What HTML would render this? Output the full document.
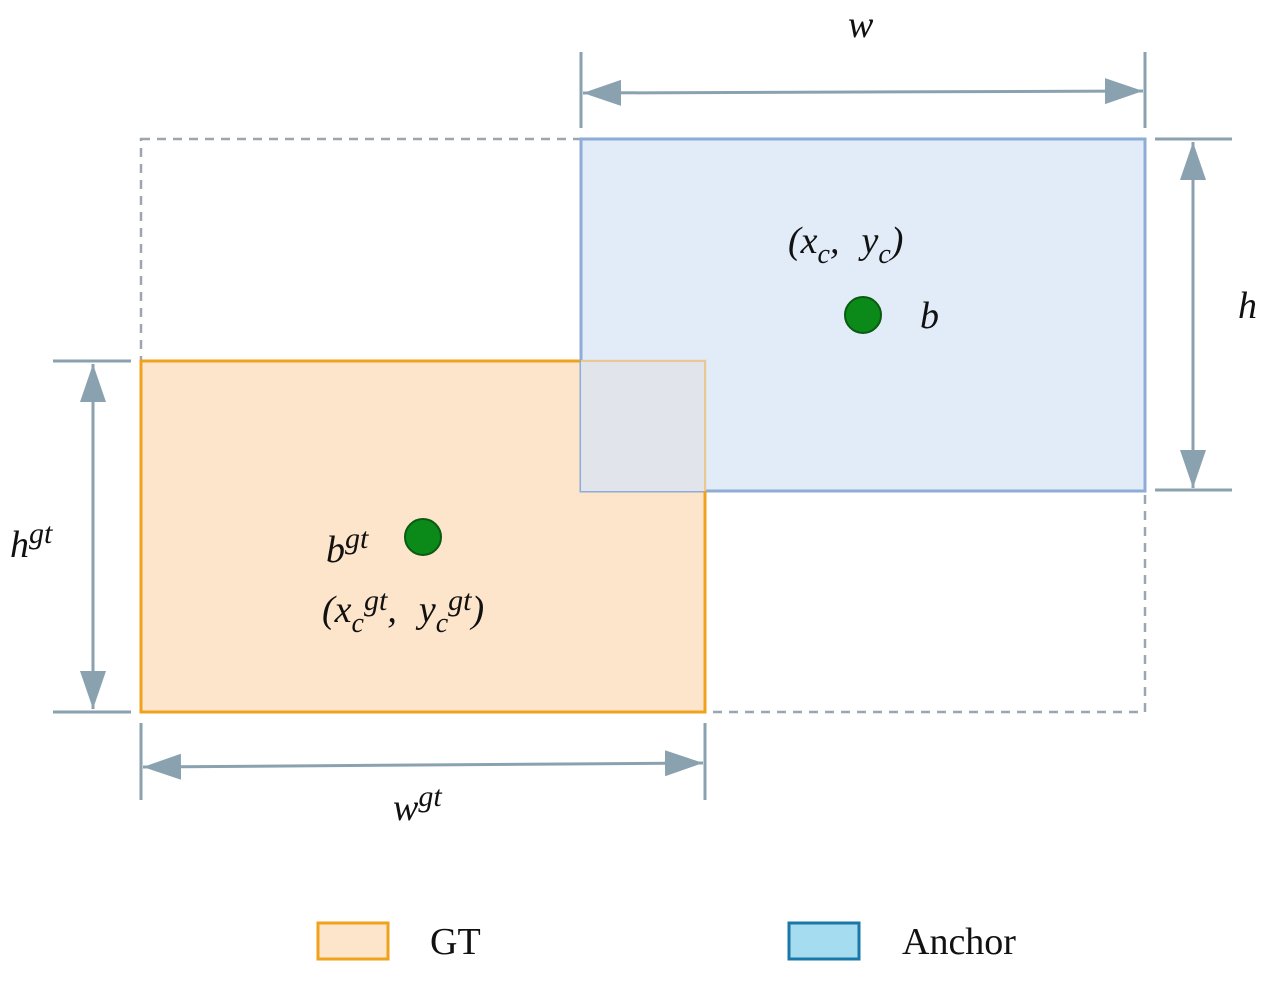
<!DOCTYPE html>
<html><head><style>body{margin:0;background:#fff}svg{display:block}</style></head><body>
<svg width="1280" height="983" viewBox="0 0 1280 983" xmlns="http://www.w3.org/2000/svg" font-family="Liberation Serif, serif">
<defs>
<marker id="a" viewBox="0 0 10 10" refX="10" refY="5" markerWidth="38" markerHeight="26" orient="auto-start-reverse" markerUnits="userSpaceOnUse" preserveAspectRatio="none"><path d="M0,0L10,5L0,10z" fill="#8aa2b0"/></marker>
</defs>
<rect x="141" y="139" width="1004" height="573" fill="none" stroke="#9aa6b0" stroke-width="2.5" stroke-dasharray="9,7"/>
<rect x="141" y="361" width="564" height="351" fill="#fde5cb" stroke="#f0a21c" stroke-width="3"/>
<rect x="581" y="139" width="564" height="352" fill="#dde9f8" fill-opacity="0.85" stroke="#8eacd6" stroke-width="3"/>
<rect x="581" y="361" width="124" height="130" fill="#e2e4ec"/>
<path d="M581,361H705V491" fill="none" stroke="#e9c893" stroke-width="2"/>
<path d="M705,491V712" stroke="#f0a21c" stroke-width="3"/>
<g stroke="#8aa2b0" stroke-width="3" fill="none">
<path d="M581,52V128M1145,52V128M1155,139H1232M1155,490H1232M53,361H131M53,712H131M141,723V800M705,723V800"/>
<line x1="583" y1="93" x2="1143" y2="91" marker-start="url(#a)" marker-end="url(#a)"/>
<line x1="1193" y1="142" x2="1193" y2="488" marker-start="url(#a)" marker-end="url(#a)"/>
<line x1="93" y1="364" x2="93" y2="709" marker-start="url(#a)" marker-end="url(#a)"/>
<line x1="143" y1="767" x2="703" y2="763" marker-start="url(#a)" marker-end="url(#a)"/>
</g>
<circle cx="863" cy="315" r="18" fill="#0b8a1a" stroke="#0a5a12" stroke-width="2"/>
<circle cx="423" cy="537" r="18" fill="#0b8a1a" stroke="#0a5a12" stroke-width="2"/>
<g font-style="italic" font-size="38" fill="#111">
<text x="848" y="37">w</text>
<text x="1238" y="318">h</text>
<text x="920" y="328">b</text>
<text x="788" y="253">(x<tspan font-size="28" dy="10">c</tspan><tspan dy="-10">,</tspan><tspan dx="22">y</tspan><tspan font-size="28" dy="10">c</tspan><tspan dy="-10">)</tspan></text>
<text x="326" y="562">b<tspan font-size="30" dy="-14">gt</tspan></text>
<text x="10" y="557">h<tspan font-size="30" dy="-14">gt</tspan></text>
<text x="393" y="820">w<tspan font-size="30" dy="-14">gt</tspan></text>
<text x="322" y="622">(x<tspan font-size="28" dy="10">c</tspan><tspan font-size="30" dy="-22">gt</tspan><tspan dy="12">,</tspan><tspan dx="22">y</tspan><tspan font-size="28" dy="10">c</tspan><tspan font-size="30" dy="-22">gt</tspan><tspan dy="12">)</tspan></text>
</g>
<rect x="318" y="923" width="70" height="36" fill="#fde5cb" stroke="#f0a21c" stroke-width="3"/>
<rect x="789" y="923" width="70" height="36" fill="#a6dcf0" stroke="#1a78a8" stroke-width="3"/>
<text x="430" y="954" font-size="38" fill="#111">GT</text>
<text x="902" y="954" font-size="38" fill="#111">Anchor</text>
</svg>
</body></html>
